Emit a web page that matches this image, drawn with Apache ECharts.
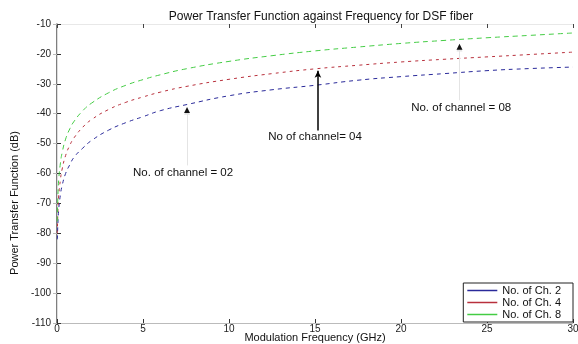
<!DOCTYPE html>
<html><head><meta charset="utf-8">
<script src="https://cdn.jsdelivr.net/npm/echarts@6/dist/echarts.min.js"></script>
<style>html,body{margin:0;padding:0;background:#fff}#c{width:578px;height:344px}</style>
</head><body><div id="c"></div>
<script>
const freqs = [0.02,0.05,0.1,0.2,0.3,0.5,0.75,1,1.5,2,3,4,5,6,7.5,10,12.5,15,17.5,20,22.5,25,27.5,30];
const ch2 = [-82,-77,-72,-67,-64,-60,-57,-54.5,-51.5,-49,-45.5,-43,-41,-39,-37,-34,-32,-30.5,-28.8,-27.6,-26.6,-25.6,-24.9,-24.4];
const ch4 = [-80,-73.5,-67.5,-62,-58.5,-54,-50.5,-48,-44.5,-42,-38.6,-36.2,-34.4,-32.8,-30.9,-28.5,-26.6,-25,-23.8,-22.7,-21.8,-21,-20.2,-19.4];
const ch8 = [-76,-68,-62,-56.5,-53,-48.5,-45,-42.5,-39,-36.5,-33,-30.5,-28.6,-27,-25,-22.5,-20.6,-19,-17.7,-16.5,-15.5,-14.6,-13.8,-13];
const seriesNames = ['No. of Ch. 2','No. of Ch. 4','No. of Ch. 8'];
const xTicks = [0,5,10,15,20,25,30];
const yTicks = [-110,-100,-90,-80,-70,-60,-50,-40,-30,-20,-10];

const chart = echarts.init(document.getElementById('c'));
const pair = v => freqs.map((f,i)=>[f,v[i]]);
const font = 'Liberation Sans, Arial, sans-serif';
const mkSeries = (name, vals, color, dash) => ({
  name, type:'line', data: pair(vals), symbol:'none', showSymbol:false, smooth:true,
  lineStyle:{color, width:1, type:dash}, itemStyle:{color}, z:3, animation:false
});
const opt = {
  animation:false,
  title:{text:'Power Transfer Function against Frequency for DSF fiber', left:316, top:6, textAlign:'center',
    textStyle:{fontSize:12, fontWeight:'normal', color:'#111', fontFamily:font}},
  grid:{left:57, right:5, top:24, bottom:21, outerBoundsMode:'none', containLabel:false},
  xAxis:[{type:'value', min:0, max:30, interval:5,
    name:'Modulation Frequency (GHz)', nameLocation:'middle', nameGap:9, nameMoveOverlap:false,
    nameTextStyle:{fontSize:11, color:'#111', fontFamily:font},
    axisLine:{show:true, lineStyle:{color:'#bbb'}}, axisTick:{inside:true, length:4, lineStyle:{color:'#333'}},
    axisLabel:{fontSize:10, color:'#222', margin:1, fontFamily:font,
      formatter: v => xTicks.includes(v) ? String(v) : ''},
    splitLine:{show:false}},
   {type:'value', min:0, max:30, interval:5, position:'top',
    axisLine:{show:true, lineStyle:{color:'#e8e8e8'}}, axisTick:{inside:true, length:4, lineStyle:{color:'#444'}},
    axisLabel:{show:false}, splitLine:{show:false}}],
  yAxis:[{type:'value', min:-110, max:-10, interval:10,
    axisLine:{show:true, lineStyle:{color:'#555', width:1.5}}, axisTick:{inside:true, length:4, lineStyle:{color:'#333'}},
    axisLabel:{fontSize:10, color:'#222', margin:6, fontFamily:font,
      formatter: v => yTicks.includes(v) ? String(v) : ''},
    splitLine:{show:false}},
   {type:'value', min:-110, max:-10, interval:10, position:'right',
    axisLine:{show:true, lineStyle:{color:'#ddd'}}, axisTick:{inside:true, length:4, lineStyle:{color:'#bbb'}},
    axisLabel:{show:false}, splitLine:{show:false}}],
  legend:{orient:'vertical', right:5, bottom:22, backgroundColor:'#fff', borderColor:'#222', borderWidth:1,
    padding:[2,12,2,4], itemGap:1, itemWidth:30, itemHeight:1.5, icon:'rect', data:seriesNames,
    textStyle:{fontSize:11, color:'#111', fontFamily:font, lineHeight:11}},
  series:[
    mkSeries(seriesNames[0], ch2, '#2a2a9a', [4,4]),
    mkSeries(seriesNames[1], ch4, '#b8303c', [3,4]),
    Object.assign(mkSeries(seriesNames[2], ch8, '#44cc44', [5,4]), {
      markLine:{silent:true, animation:false, symbol:['none','none'], label:{show:false},
        data:[
          [{coord:[15.17,-45.6], symbol:'none'},{coord:[15.17,-25.6], symbol:'arrow', symbolSize:[5,7]}],
        ],
        lineStyle:{color:'#000', width:1.5, type:'solid'}}
    }),
    {type:'line', data:[], markLine:{silent:true, animation:false, symbol:['none','triangle'], symbolSize:[6,7], label:{show:false},
      data:[[{coord:[7.56,-57.3]},{coord:[7.56,-39.2]}],[{coord:[23.4,-35.5]},{coord:[23.4,-18]}]],
      lineStyle:{color:'#e4e4e4', width:1, type:'solid'}, itemStyle:{color:'#111'}},
      markPoint:{silent:true, animation:false, symbol:'triangle', symbolSize:6, itemStyle:{color:'#111'},
      label:{show:false}, data:[{coord:[7.56,-38.8]},{coord:[23.4,-17.6]}]}}
  ]
};
chart.setOption(opt);
const texts = [
  {t:'No. of channel = 02', at:[7.33,-59.7]},
  {t:'No of channel= 04', at:[15.0,-47.9]},
  {t:'No. of channel = 08', at:[23.5,-37.9]}
];
const g = texts.map(o => {
  const p = chart.convertToPixel({xAxisIndex:0, yAxisIndex:0}, o.at);
  return {type:'text', x:p[0], y:p[1], style:{text:o.t, fontSize:11.5, fill:'#111', fontFamily:font, align:'center', verticalAlign:'middle'}};
});
g.push({type:'text', x:15, y:203, rotation:Math.PI/2,
  style:{text:'Power Transfer Function (dB)', fontSize:11, fill:'#111', fontFamily:font, align:'center', verticalAlign:'middle'}});
chart.setOption({graphic:g});
</script></body></html>
